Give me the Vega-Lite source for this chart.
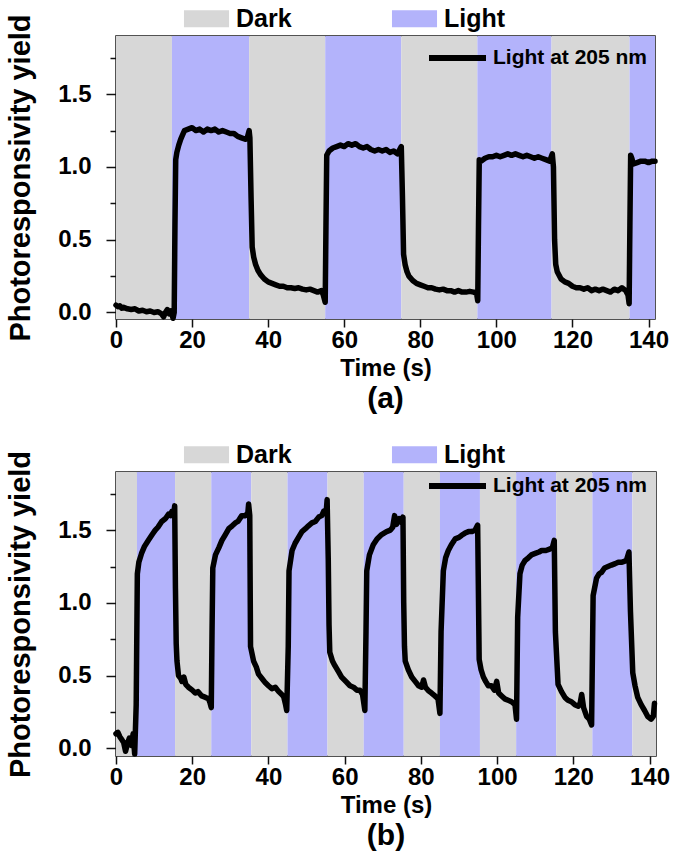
{
  "$schema": "https://vega.github.io/schema/vega-lite/v6.json",
  "padding": {"left": 5, "top": 5, "right": 5, "bottom": 4},
  "spacing": 26,
  "config": {
    "font": "Liberation Sans",
    "view": {"stroke": "#1a1a1a", "strokeWidth": 1.5},
    "axis": {"domain": false, "grid": false, "tickColor": "#111", "tickWidth": 1.5, "labelFont": "Liberation Sans", "labelFontWeight": "bold", "labelFontSize": 24, "labelColor": "black", "titleFont": "Liberation Sans", "titleFontWeight": "bold", "titleColor": "black"},
    "legend": {"labelFont": "Liberation Sans", "labelColor": "black", "padding": 0}
  },
  "resolve": {"scale": {"fill": "independent", "stroke": "independent", "x": "independent", "y": "independent"}},
  "datasets": {
    "bands_a": [
      {"start": 0, "end": 14.7, "phase": "Dark"},
      {"start": 14.7, "end": 35, "phase": "Light"},
      {"start": 35, "end": 55, "phase": "Dark"},
      {"start": 55, "end": 75, "phase": "Light"},
      {"start": 75, "end": 95, "phase": "Dark"},
      {"start": 95, "end": 114.5, "phase": "Light"},
      {"start": 114.5, "end": 135, "phase": "Dark"},
      {"start": 135, "end": 141.7, "phase": "Light"}
    ],
    "bands_b": [
      {"start": 0, "end": 5.5, "phase": "Dark"},
      {"start": 5.5, "end": 15.5, "phase": "Light"},
      {"start": 15.5, "end": 25, "phase": "Dark"},
      {"start": 25, "end": 35.5, "phase": "Light"},
      {"start": 35.5, "end": 45, "phase": "Dark"},
      {"start": 45, "end": 55.5, "phase": "Light"},
      {"start": 55.5, "end": 65, "phase": "Dark"},
      {"start": 65, "end": 75.5, "phase": "Light"},
      {"start": 75.5, "end": 85, "phase": "Dark"},
      {"start": 85, "end": 95.5, "phase": "Light"},
      {"start": 95.5, "end": 105, "phase": "Dark"},
      {"start": 105, "end": 115.5, "phase": "Light"},
      {"start": 115.5, "end": 125, "phase": "Dark"},
      {"start": 125, "end": 135.5, "phase": "Light"},
      {"start": 135.5, "end": 141.7, "phase": "Dark"}
    ],
    "line_a": [
      {"t": 0, "v": 0.05}, {"t": 0.5, "v": 0.04}, {"t": 1, "v": 0.045}, {"t": 1.5, "v": 0.03}, {"t": 2, "v": 0.035}, {"t": 3, "v": 0.025}, {"t": 4, "v": 0.02}, {"t": 5, "v": 0.025}, {"t": 6, "v": 0.01}, {"t": 7, "v": 0.015}, {"t": 8, "v": 0.005}, {"t": 9, "v": 0.01}, {"t": 10, "v": 0.0}, {"t": 11, "v": 0.005}, {"t": 12, "v": -0.01}, {"t": 12.5, "v": -0.03}, {"t": 13, "v": 0.0}, {"t": 13.5, "v": 0.02}, {"t": 14, "v": -0.01}, {"t": 14.5, "v": 0.01}, {"t": 15, "v": -0.04}, {"t": 15.3, "v": 0.0}, {"t": 15.5, "v": 0.6}, {"t": 15.7, "v": 1.05}, {"t": 16, "v": 1.1}, {"t": 16.5, "v": 1.15}, {"t": 17, "v": 1.19}, {"t": 17.5, "v": 1.22}, {"t": 18, "v": 1.25}, {"t": 19, "v": 1.26}, {"t": 20, "v": 1.27}, {"t": 21, "v": 1.25}, {"t": 22, "v": 1.26}, {"t": 23, "v": 1.24}, {"t": 24, "v": 1.26}, {"t": 25, "v": 1.25}, {"t": 26, "v": 1.26}, {"t": 27, "v": 1.24}, {"t": 28, "v": 1.25}, {"t": 29, "v": 1.24}, {"t": 30, "v": 1.23}, {"t": 31, "v": 1.23}, {"t": 32, "v": 1.21}, {"t": 33, "v": 1.2}, {"t": 34, "v": 1.19}, {"t": 34.5, "v": 1.2}, {"t": 35, "v": 1.25}, {"t": 35.2, "v": 1.2}, {"t": 35.5, "v": 0.8}, {"t": 35.8, "v": 0.45}, {"t": 36.2, "v": 0.38}, {"t": 36.7, "v": 0.33}, {"t": 37.3, "v": 0.29}, {"t": 38, "v": 0.26}, {"t": 39, "v": 0.23}, {"t": 40, "v": 0.21}, {"t": 41, "v": 0.2}, {"t": 42, "v": 0.19}, {"t": 43, "v": 0.18}, {"t": 44, "v": 0.18}, {"t": 45, "v": 0.17}, {"t": 46, "v": 0.17}, {"t": 47, "v": 0.165}, {"t": 48, "v": 0.17}, {"t": 49, "v": 0.16}, {"t": 50, "v": 0.155}, {"t": 51, "v": 0.16}, {"t": 52, "v": 0.15}, {"t": 53, "v": 0.14}, {"t": 54, "v": 0.15}, {"t": 54.5, "v": 0.12}, {"t": 55, "v": 0.07}, {"t": 55.2, "v": 0.6}, {"t": 55.4, "v": 1.08}, {"t": 56, "v": 1.11}, {"t": 57, "v": 1.13}, {"t": 58, "v": 1.14}, {"t": 59, "v": 1.15}, {"t": 60, "v": 1.14}, {"t": 61, "v": 1.16}, {"t": 62, "v": 1.15}, {"t": 63, "v": 1.16}, {"t": 64, "v": 1.14}, {"t": 65, "v": 1.13}, {"t": 66, "v": 1.14}, {"t": 67, "v": 1.12}, {"t": 68, "v": 1.11}, {"t": 69, "v": 1.12}, {"t": 70, "v": 1.11}, {"t": 71, "v": 1.12}, {"t": 72, "v": 1.1}, {"t": 73, "v": 1.11}, {"t": 74, "v": 1.09}, {"t": 75, "v": 1.14}, {"t": 75.3, "v": 0.8}, {"t": 75.6, "v": 0.4}, {"t": 76, "v": 0.33}, {"t": 76.5, "v": 0.28}, {"t": 77, "v": 0.25}, {"t": 78, "v": 0.22}, {"t": 79, "v": 0.2}, {"t": 80, "v": 0.19}, {"t": 81, "v": 0.18}, {"t": 82, "v": 0.17}, {"t": 83, "v": 0.17}, {"t": 84, "v": 0.16}, {"t": 85, "v": 0.155}, {"t": 86, "v": 0.16}, {"t": 87, "v": 0.15}, {"t": 88, "v": 0.15}, {"t": 89, "v": 0.14}, {"t": 90, "v": 0.15}, {"t": 91, "v": 0.14}, {"t": 92, "v": 0.14}, {"t": 93, "v": 0.145}, {"t": 94, "v": 0.14}, {"t": 94.8, "v": 0.13}, {"t": 95.1, "v": 0.08}, {"t": 95.3, "v": 0.6}, {"t": 95.5, "v": 1.05}, {"t": 96, "v": 1.04}, {"t": 97, "v": 1.06}, {"t": 98, "v": 1.07}, {"t": 99, "v": 1.07}, {"t": 100, "v": 1.08}, {"t": 101, "v": 1.07}, {"t": 102, "v": 1.08}, {"t": 103, "v": 1.09}, {"t": 104, "v": 1.08}, {"t": 105, "v": 1.09}, {"t": 106, "v": 1.08}, {"t": 107, "v": 1.07}, {"t": 108, "v": 1.08}, {"t": 109, "v": 1.07}, {"t": 110, "v": 1.06}, {"t": 111, "v": 1.07}, {"t": 112, "v": 1.06}, {"t": 113, "v": 1.05}, {"t": 114, "v": 1.04}, {"t": 114.7, "v": 1.09}, {"t": 115, "v": 1.0}, {"t": 115.3, "v": 0.5}, {"t": 115.6, "v": 0.33}, {"t": 116, "v": 0.28}, {"t": 117, "v": 0.23}, {"t": 118, "v": 0.21}, {"t": 119, "v": 0.2}, {"t": 120, "v": 0.18}, {"t": 121, "v": 0.17}, {"t": 122, "v": 0.17}, {"t": 123, "v": 0.16}, {"t": 124, "v": 0.17}, {"t": 125, "v": 0.15}, {"t": 126, "v": 0.16}, {"t": 127, "v": 0.15}, {"t": 128, "v": 0.16}, {"t": 129, "v": 0.15}, {"t": 130, "v": 0.14}, {"t": 131, "v": 0.16}, {"t": 132, "v": 0.15}, {"t": 133, "v": 0.17}, {"t": 134, "v": 0.15}, {"t": 134.6, "v": 0.12}, {"t": 134.9, "v": 0.06}, {"t": 135.1, "v": 0.6}, {"t": 135.3, "v": 1.08}, {"t": 135.6, "v": 1.06}, {"t": 136, "v": 1.02}, {"t": 137, "v": 1.03}, {"t": 138, "v": 1.04}, {"t": 139, "v": 1.04}, {"t": 140, "v": 1.03}, {"t": 141, "v": 1.04}, {"t": 141.7, "v": 1.04}
    ],
    "line_b": [
      {"t": 0, "v": 0.1}, {"t": 0.5, "v": 0.11}, {"t": 1, "v": 0.08}, {"t": 1.5, "v": 0.06}, {"t": 2, "v": 0.04}, {"t": 2.5, "v": -0.02}, {"t": 3, "v": 0.03}, {"t": 3.5, "v": 0.07}, {"t": 4, "v": 0.02}, {"t": 4.5, "v": 0.1}, {"t": 4.9, "v": -0.04}, {"t": 5.3, "v": 0.3}, {"t": 5.6, "v": 1.2}, {"t": 6, "v": 1.28}, {"t": 6.7, "v": 1.34}, {"t": 7.5, "v": 1.39}, {"t": 8.5, "v": 1.43}, {"t": 9.5, "v": 1.47}, {"t": 10.3, "v": 1.5}, {"t": 11, "v": 1.52}, {"t": 12, "v": 1.56}, {"t": 13, "v": 1.58}, {"t": 13.8, "v": 1.61}, {"t": 14.3, "v": 1.6}, {"t": 14.7, "v": 1.63}, {"t": 15.1, "v": 1.6}, {"t": 15.4, "v": 1.667}, {"t": 15.6, "v": 1.1}, {"t": 15.8, "v": 0.72}, {"t": 16, "v": 0.6}, {"t": 16.4, "v": 0.5}, {"t": 17, "v": 0.48}, {"t": 17.3, "v": 0.46}, {"t": 17.8, "v": 0.49}, {"t": 18.3, "v": 0.44}, {"t": 19, "v": 0.42}, {"t": 20, "v": 0.4}, {"t": 20.8, "v": 0.38}, {"t": 21.5, "v": 0.39}, {"t": 22.5, "v": 0.36}, {"t": 23.5, "v": 0.35}, {"t": 24.3, "v": 0.34}, {"t": 24.7, "v": 0.31}, {"t": 25, "v": 0.28}, {"t": 25.2, "v": 0.8}, {"t": 25.4, "v": 1.24}, {"t": 26.1, "v": 1.33}, {"t": 27, "v": 1.38}, {"t": 27.8, "v": 1.43}, {"t": 28.7, "v": 1.47}, {"t": 29.6, "v": 1.51}, {"t": 30.5, "v": 1.53}, {"t": 31.3, "v": 1.55}, {"t": 32, "v": 1.56}, {"t": 33, "v": 1.6}, {"t": 34, "v": 1.6}, {"t": 34.6, "v": 1.62}, {"t": 34.8, "v": 1.68}, {"t": 35.1, "v": 1.6}, {"t": 35.3, "v": 0.7}, {"t": 36.1, "v": 0.6}, {"t": 36.8, "v": 0.56}, {"t": 37.4, "v": 0.51}, {"t": 38.3, "v": 0.48}, {"t": 39.2, "v": 0.45}, {"t": 40, "v": 0.43}, {"t": 40.9, "v": 0.41}, {"t": 41.8, "v": 0.42}, {"t": 42.7, "v": 0.39}, {"t": 43.5, "v": 0.37}, {"t": 44, "v": 0.355}, {"t": 44.5, "v": 0.3}, {"t": 44.8, "v": 0.26}, {"t": 45.2, "v": 0.7}, {"t": 45.4, "v": 1.22}, {"t": 46.2, "v": 1.36}, {"t": 47, "v": 1.41}, {"t": 47.9, "v": 1.45}, {"t": 48.8, "v": 1.49}, {"t": 49.7, "v": 1.51}, {"t": 50.5, "v": 1.53}, {"t": 51.4, "v": 1.55}, {"t": 52.3, "v": 1.56}, {"t": 53.2, "v": 1.59}, {"t": 54, "v": 1.6}, {"t": 54.5, "v": 1.63}, {"t": 55.2, "v": 1.64}, {"t": 55.4, "v": 1.71}, {"t": 55.7, "v": 1.3}, {"t": 55.9, "v": 0.85}, {"t": 56.1, "v": 0.66}, {"t": 56.8, "v": 0.6}, {"t": 57.4, "v": 0.57}, {"t": 58.3, "v": 0.53}, {"t": 59.2, "v": 0.49}, {"t": 60.3, "v": 0.46}, {"t": 61.4, "v": 0.43}, {"t": 62.3, "v": 0.42}, {"t": 63.2, "v": 0.4}, {"t": 64, "v": 0.4}, {"t": 64.7, "v": 0.37}, {"t": 65.3, "v": 0.26}, {"t": 65.6, "v": 0.8}, {"t": 65.8, "v": 1.22}, {"t": 66.5, "v": 1.33}, {"t": 67.5, "v": 1.4}, {"t": 68.5, "v": 1.44}, {"t": 69.7, "v": 1.47}, {"t": 71, "v": 1.49}, {"t": 72, "v": 1.5}, {"t": 72.6, "v": 1.52}, {"t": 73.1, "v": 1.6}, {"t": 73.6, "v": 1.54}, {"t": 74.3, "v": 1.58}, {"t": 75, "v": 1.55}, {"t": 75.3, "v": 1.59}, {"t": 75.5, "v": 1.0}, {"t": 75.7, "v": 0.7}, {"t": 75.9, "v": 0.6}, {"t": 76.7, "v": 0.54}, {"t": 77.6, "v": 0.49}, {"t": 78.5, "v": 0.46}, {"t": 79.4, "v": 0.43}, {"t": 80.2, "v": 0.42}, {"t": 80.7, "v": 0.47}, {"t": 81.2, "v": 0.42}, {"t": 82, "v": 0.395}, {"t": 82.8, "v": 0.38}, {"t": 83.7, "v": 0.36}, {"t": 84.5, "v": 0.34}, {"t": 85, "v": 0.24}, {"t": 85.3, "v": 0.8}, {"t": 85.9, "v": 1.22}, {"t": 86.5, "v": 1.31}, {"t": 87.2, "v": 1.36}, {"t": 88, "v": 1.4}, {"t": 89, "v": 1.44}, {"t": 90, "v": 1.45}, {"t": 90.7, "v": 1.465}, {"t": 91.6, "v": 1.48}, {"t": 92.5, "v": 1.49}, {"t": 93.3, "v": 1.49}, {"t": 94.2, "v": 1.5}, {"t": 94.9, "v": 1.535}, {"t": 95.3, "v": 0.61}, {"t": 95.8, "v": 0.54}, {"t": 96.4, "v": 0.49}, {"t": 97, "v": 0.46}, {"t": 97.7, "v": 0.43}, {"t": 98.5, "v": 0.43}, {"t": 99.3, "v": 0.4}, {"t": 99.9, "v": 0.46}, {"t": 100.4, "v": 0.38}, {"t": 101.2, "v": 0.36}, {"t": 102, "v": 0.34}, {"t": 102.9, "v": 0.33}, {"t": 103.8, "v": 0.32}, {"t": 104.7, "v": 0.3}, {"t": 105.1, "v": 0.2}, {"t": 105.4, "v": 0.9}, {"t": 106, "v": 1.2}, {"t": 106.6, "v": 1.26}, {"t": 107.3, "v": 1.29}, {"t": 108.2, "v": 1.31}, {"t": 109, "v": 1.33}, {"t": 110, "v": 1.34}, {"t": 111, "v": 1.35}, {"t": 111.7, "v": 1.36}, {"t": 112.8, "v": 1.36}, {"t": 113.8, "v": 1.37}, {"t": 114.5, "v": 1.38}, {"t": 115, "v": 1.43}, {"t": 115.3, "v": 0.8}, {"t": 116, "v": 0.44}, {"t": 116.9, "v": 0.39}, {"t": 117.8, "v": 0.35}, {"t": 118.6, "v": 0.33}, {"t": 119.5, "v": 0.32}, {"t": 120.4, "v": 0.3}, {"t": 121.3, "v": 0.29}, {"t": 121.8, "v": 0.31}, {"t": 122.2, "v": 0.37}, {"t": 122.7, "v": 0.28}, {"t": 123.5, "v": 0.22}, {"t": 124.2, "v": 0.2}, {"t": 124.8, "v": 0.16}, {"t": 125.2, "v": 1.05}, {"t": 126.1, "v": 1.17}, {"t": 126.8, "v": 1.2}, {"t": 127.4, "v": 1.21}, {"t": 128.2, "v": 1.24}, {"t": 129.1, "v": 1.25}, {"t": 130, "v": 1.26}, {"t": 131, "v": 1.27}, {"t": 131.8, "v": 1.28}, {"t": 132.8, "v": 1.28}, {"t": 133.9, "v": 1.29}, {"t": 134.6, "v": 1.35}, {"t": 135, "v": 0.94}, {"t": 135.6, "v": 0.52}, {"t": 136.2, "v": 0.43}, {"t": 136.9, "v": 0.35}, {"t": 137.8, "v": 0.3}, {"t": 138.7, "v": 0.26}, {"t": 139.5, "v": 0.22}, {"t": 140.4, "v": 0.2}, {"t": 141, "v": 0.22}, {"t": 141.3, "v": 0.31}
    ]
  },
  "vconcat": [
    {
      "width": 539,
      "height": 283,
      "title": {"text": "(a)", "orient": "bottom", "frame": "group", "anchor": "middle", "fontSize": 30, "fontWeight": "bold", "color": "black", "offset": 4},
      "layer": [
        {
          "data": {"name": "bands_a"},
          "mark": {"type": "rect"},
          "encoding": {
            "x": {"field": "start", "type": "quantitative", "scale": {"domain": [0, 141.7], "nice": false},
              "axis": {"values": [0, 10, 20, 30, 40, 50, 60, 70, 80, 90, 100, 110, 120, 130, 140], "labelExpr": "datum.value % 20 === 0 ? datum.label : ''", "tickSize": {"condition": {"test": "datum.value % 20 === 0", "value": 8}, "value": 4}, "labelPadding": 1, "labelFlush": false, "labelOverlap": false, "title": "Time (s)", "titleFontSize": 24, "titlePadding": 4}},
            "x2": {"field": "end"},
            "fill": {"field": "phase", "type": "nominal", "scale": {"domain": ["Dark", "Light"], "range": ["#d7d7d7", "#b3b3fb"]},
              "legend": {"title": null, "orient": "none", "legendX": 78, "legendY": -30, "direction": "horizontal", "symbolType": "M-2.65,-1H2.65V1H-2.65Z", "symbolSize": 289, "symbolStrokeWidth": 0, "symbolOpacity": 1, "labelFontSize": 25, "labelFontWeight": "bold", "labelOffset": 17, "columnPadding": 99}}
          }
        },
        {
          "data": {"name": "line_a"},
          "mark": {"type": "line", "strokeWidth": 5.5, "strokeJoin": "round", "strokeCap": "round"},
          "encoding": {
            "x": {"field": "t", "type": "quantitative"},
            "y": {"field": "v", "type": "quantitative", "scale": {"domain": [-0.045, 1.9], "nice": false, "zero": false},
              "axis": {"values": [0, 0.25, 0.5, 0.75, 1, 1.25, 1.5, 1.75], "labelExpr": "datum.value * 2 === round(datum.value * 2) ? format(datum.value, '.1f') : ''", "tickSize": {"condition": {"test": "datum.value * 2 === round(datum.value * 2)", "value": 10}, "value": 6}, "labelPadding": 15, "title": "Photoresponsivity yield", "titleFontSize": 29, "titlePadding": 22}},
            "stroke": {"datum": "Light at 205 nm", "type": "nominal", "scale": {"range": ["black"]},
              "legend": {"title": null, "orient": "none", "legendX": 310, "legendY": -9.5, "symbolType": "stroke", "symbolSize": 3249, "symbolStrokeWidth": 6, "labelFontSize": 21, "labelFontWeight": "bold", "labelOffset": 4}}
          }
        }
      ]
    },
    {
      "width": 540,
      "height": 284,
      "title": {"text": "(b)", "orient": "bottom", "frame": "group", "anchor": "middle", "fontSize": 30, "fontWeight": "bold", "color": "black", "offset": 4},
      "layer": [
        {
          "data": {"name": "bands_b"},
          "mark": {"type": "rect"},
          "encoding": {
            "x": {"field": "start", "type": "quantitative", "scale": {"domain": [0, 141.7], "nice": false},
              "axis": {"values": [0, 10, 20, 30, 40, 50, 60, 70, 80, 90, 100, 110, 120, 130, 140], "labelExpr": "datum.value % 20 === 0 ? datum.label : ''", "tickSize": {"condition": {"test": "datum.value % 20 === 0", "value": 8}, "value": 4}, "labelPadding": 1, "labelFlush": false, "labelOverlap": false, "title": "Time (s)", "titleFontSize": 24, "titlePadding": 4}},
            "x2": {"field": "end"},
            "fill": {"field": "phase", "type": "nominal", "scale": {"domain": ["Dark", "Light"], "range": ["#d7d7d7", "#b3b3fb"]},
              "legend": {"title": null, "orient": "none", "legendX": 78, "legendY": -30, "direction": "horizontal", "symbolType": "M-2.65,-1H2.65V1H-2.65Z", "symbolSize": 289, "symbolStrokeWidth": 0, "symbolOpacity": 1, "labelFontSize": 25, "labelFontWeight": "bold", "labelOffset": 17, "columnPadding": 99}}
          }
        },
        {
          "data": {"name": "line_b"},
          "mark": {"type": "line", "strokeWidth": 5.5, "strokeJoin": "round", "strokeCap": "round"},
          "encoding": {
            "x": {"field": "t", "type": "quantitative"},
            "y": {"field": "v", "type": "quantitative", "scale": {"domain": [-0.053, 1.9], "nice": false, "zero": false},
              "axis": {"values": [0, 0.25, 0.5, 0.75, 1, 1.25, 1.5, 1.75], "labelExpr": "datum.value * 2 === round(datum.value * 2) ? format(datum.value, '.1f') : ''", "tickSize": {"condition": {"test": "datum.value * 2 === round(datum.value * 2)", "value": 10}, "value": 6}, "labelPadding": 15, "title": "Photoresponsivity yield", "titleFontSize": 29, "titlePadding": 22}},
            "stroke": {"datum": "Light at 205 nm", "type": "nominal", "scale": {"range": ["black"]},
              "legend": {"title": null, "orient": "none", "legendX": 310, "legendY": -17.5, "symbolType": "stroke", "symbolSize": 3249, "symbolStrokeWidth": 6, "labelFontSize": 21, "labelFontWeight": "bold", "labelOffset": 4}}
          }
        }
      ]
    }
  ]
}
